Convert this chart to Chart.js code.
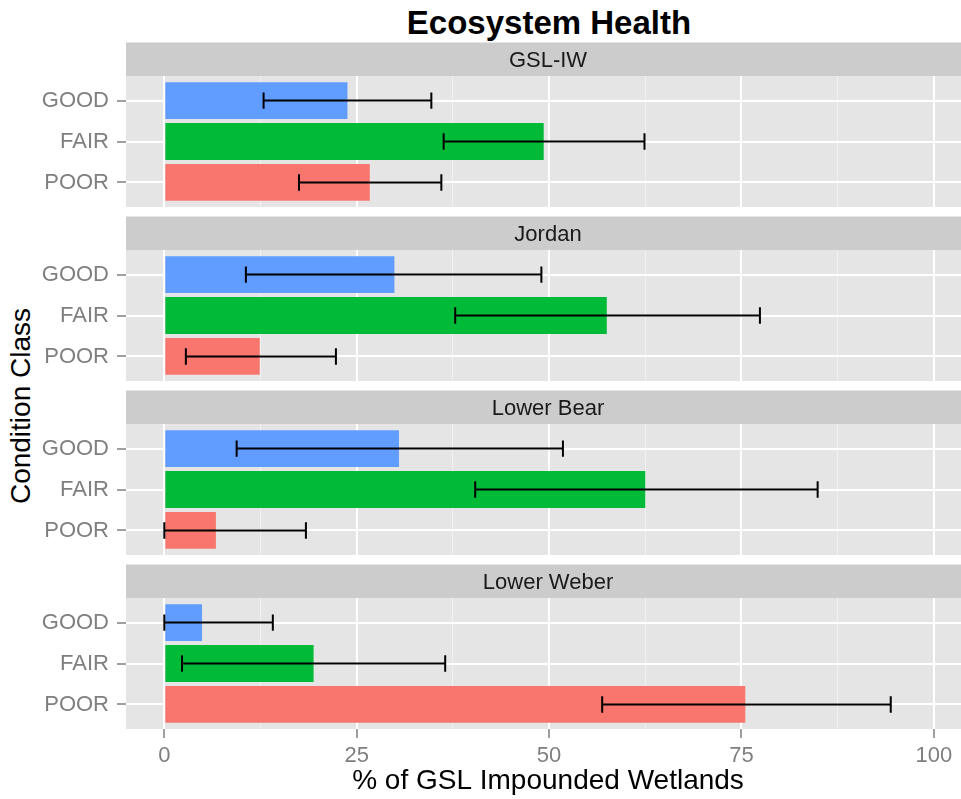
<!DOCTYPE html>
<html>
<head>
<meta charset="utf-8">
<title>Ecosystem Health</title>
<script src="https://cdn.jsdelivr.net/npm/chart.js@4.4.1/dist/chart.umd.min.js"></script>
<style>
  html, body { margin: 0; padding: 0; background: #fff; overflow: hidden; width: 961px; height: 799px; }
  body { position: relative; font-family: "Liberation Sans", Arial, sans-serif; }
  canvas { position: absolute; left: 0; }
  #title { position: absolute; left: 349px; top: 3px; width: 400px; text-align: center;
           font-weight: bold; font-size: 33px; line-height: 40px; color: #000; }
  #ytitle { position: absolute; left: -129px; top: 389px; width: 300px; height: 34px; line-height: 34px;
            text-align: center; font-size: 28px; color: #000; transform: rotate(-90deg); }
</style>
</head>
<body>
<div id="title">Ecosystem Health</div>
<div id="ytitle">Condition Class</div>
<script>
const facets = ['GSL-IW', 'Jordan', 'Lower Bear', 'Lower Weber'];
const classes = ['GOOD', 'FAIR', 'POOR'];
const classColors = ['#619CFF', '#00BA38', '#F8766D'];
const xTickLabels = [0, 25, 50, 75, 100];

// % of wetlands in each class (GOOD, FAIR, POOR) and the error bar ends
const gslIw = [23.8, 49.3, 26.7];
const gslIwLow = [12.9, 36.3, 17.5];
const gslIwHigh = [34.7, 62.4, 36.0];

const jordan = [29.9, 57.5, 12.4];
const jordanLow = [10.6, 37.8, 2.8];
const jordanHigh = [49.0, 77.4, 22.3];

const lowerBear = [30.5, 62.5, 6.7];
const lowerBearLow = [9.4, 40.4, 0];
const lowerBearHigh = [51.8, 84.9, 18.4];

const lowerWeber = [4.9, 19.4, 75.5];
const lowerWeberLow = [0, 2.3, 56.9];
const lowerWeberHigh = [14.1, 36.5, 94.4];

const values = [gslIw, jordan, lowerBear, lowerWeber];
const lows = [gslIwLow, jordanLow, lowerBearLow, lowerWeberLow];
const highs = [gslIwHigh, jordanHigh, lowerBearHigh, lowerWeberHigh];

const FONT = '"Liberation Sans", Arial, sans-serif';
Chart.defaults.font.family = FONT;

const STRIP_H = 33.5;

// grey panel, facet strip on top, and the error bars
const facetPanel = {
    id: 'facetPanel',
    beforeDraw(chart, args, opts) {
        const {ctx, chartArea: a} = chart;
        ctx.save();
        ctx.fillStyle = '#E5E5E5';
        ctx.fillRect(a.left, a.top, a.right - a.left, a.bottom - a.top);
        ctx.fillStyle = '#CCCCCC';
        ctx.fillRect(a.left, a.top - STRIP_H, a.right - a.left, STRIP_H);
        ctx.fillStyle = '#1A1A1A';
        ctx.font = '22px ' + FONT;
        ctx.textAlign = 'center';
        ctx.textBaseline = 'middle';
        ctx.fillText(opts.label, (a.left + a.right) / 2, a.top - STRIP_H / 2 + 1.5);
        ctx.restore();
    },
    afterDatasetsDraw(chart) {
        const {ctx, scales: {x, y}} = chart;
        const ds = chart.data.datasets[0];
        ctx.save();
        ctx.strokeStyle = '#000';
        ctx.lineWidth = 2;
        ds.data.forEach((d, i) => {
            const x1 = x.getPixelForValue(ds.errLow[i]);
            const x2 = x.getPixelForValue(ds.errHigh[i]);
            const yc = y.getPixelForValue(d.y);
            const yt = y.getPixelForValue(d.y - 0.2);
            const yb = y.getPixelForValue(d.y + 0.2);
            ctx.beginPath();
            ctx.moveTo(x1, yc); ctx.lineTo(x2, yc);
            ctx.moveTo(x1, yt); ctx.lineTo(x1, yb);
            ctx.moveTo(x2, yt); ctx.lineTo(x2, yb);
            ctx.stroke();
        });
        ctx.restore();
    }
};

const isMajor = c => c.tick && xTickLabels.includes(c.tick.value);

function facetChart(i) {
    const last = i === facets.length - 1;
    const canvas = document.createElement('canvas');
    canvas.width = 970;
    canvas.height = last ? 235 : 165;
    canvas.style.top = (42 + 174 * i) + 'px';
    document.body.appendChild(canvas);

    return new Chart(canvas, {
        type: 'bar',
        data: {
            datasets: [{
                data: values[i].map((v, k) => ({x: v, y: k})),
                backgroundColor: classColors,
                barPercentage: 0.9,
                categoryPercentage: 1,
                errLow: lows[i],
                errHigh: highs[i]
            }]
        },
        options: {
            indexAxis: 'y',
            responsive: false,
            animation: false,
            layout: {padding: {top: 34, left: 0, right: 0, bottom: 0}},
            plugins: {
                legend: {display: false},
                tooltip: {enabled: false},
                facetPanel: {label: facets[i]}
            },
            scales: {
                x: {
                    type: 'linear',
                    min: -4.98,
                    max: 104.7,
                    border: {display: false},
                    ticks: {
                        stepSize: 12.5,
                        includeBounds: false,
                        autoSkip: false,
                        maxRotation: 0,
                        display: last,
                        color: '#7F7F7F',
                        font: {size: 22},
                        padding: 5,
                        callback: v => xTickLabels.includes(v) ? String(v) : ''
                    },
                    grid: {
                        color: c => isMajor(c) ? '#FFFFFF' : '#F2F2F2',
                        lineWidth: c => isMajor(c) ? 2 : 1,
                        drawTicks: last,
                        tickLength: 9,
                        tickWidth: 1.5,
                        tickColor: c => isMajor(c) ? '#7F7F7F' : 'rgba(0,0,0,0)'
                    },
                    title: {
                        display: last,
                        text: '% of GSL Impounded Wetlands',
                        color: '#000',
                        font: {size: 28},
                        padding: {top: 0, bottom: 1}
                    },
                    afterFit: s => {
                        s.height = last ? 70 : 0;
                        s.paddingLeft = 0;
                        s.paddingRight = 0;
                    }
                },
                y: {
                    type: 'linear',
                    reverse: true,
                    offset: false,
                    min: -0.6,
                    max: 2.6,
                    border: {display: false},
                    ticks: {
                        stepSize: 1,
                        includeBounds: false,
                        color: '#7F7F7F',
                        font: {size: 22},
                        padding: 8,
                        callback: v => classes[v]
                    },
                    grid: {
                        offset: false,
                        color: '#FFFFFF',
                        lineWidth: 2,
                        tickLength: 9,
                        tickWidth: 1.5,
                        tickColor: '#7F7F7F'
                    },
                    afterFit: s => {
                        s.width = 126;
                        s.paddingTop = 0;
                        s.paddingBottom = 0;
                    }
                }
            }
        },
        plugins: [facetPanel]
    });
}

facets.forEach((f, i) => facetChart(i));
</script>
</body>
</html>
